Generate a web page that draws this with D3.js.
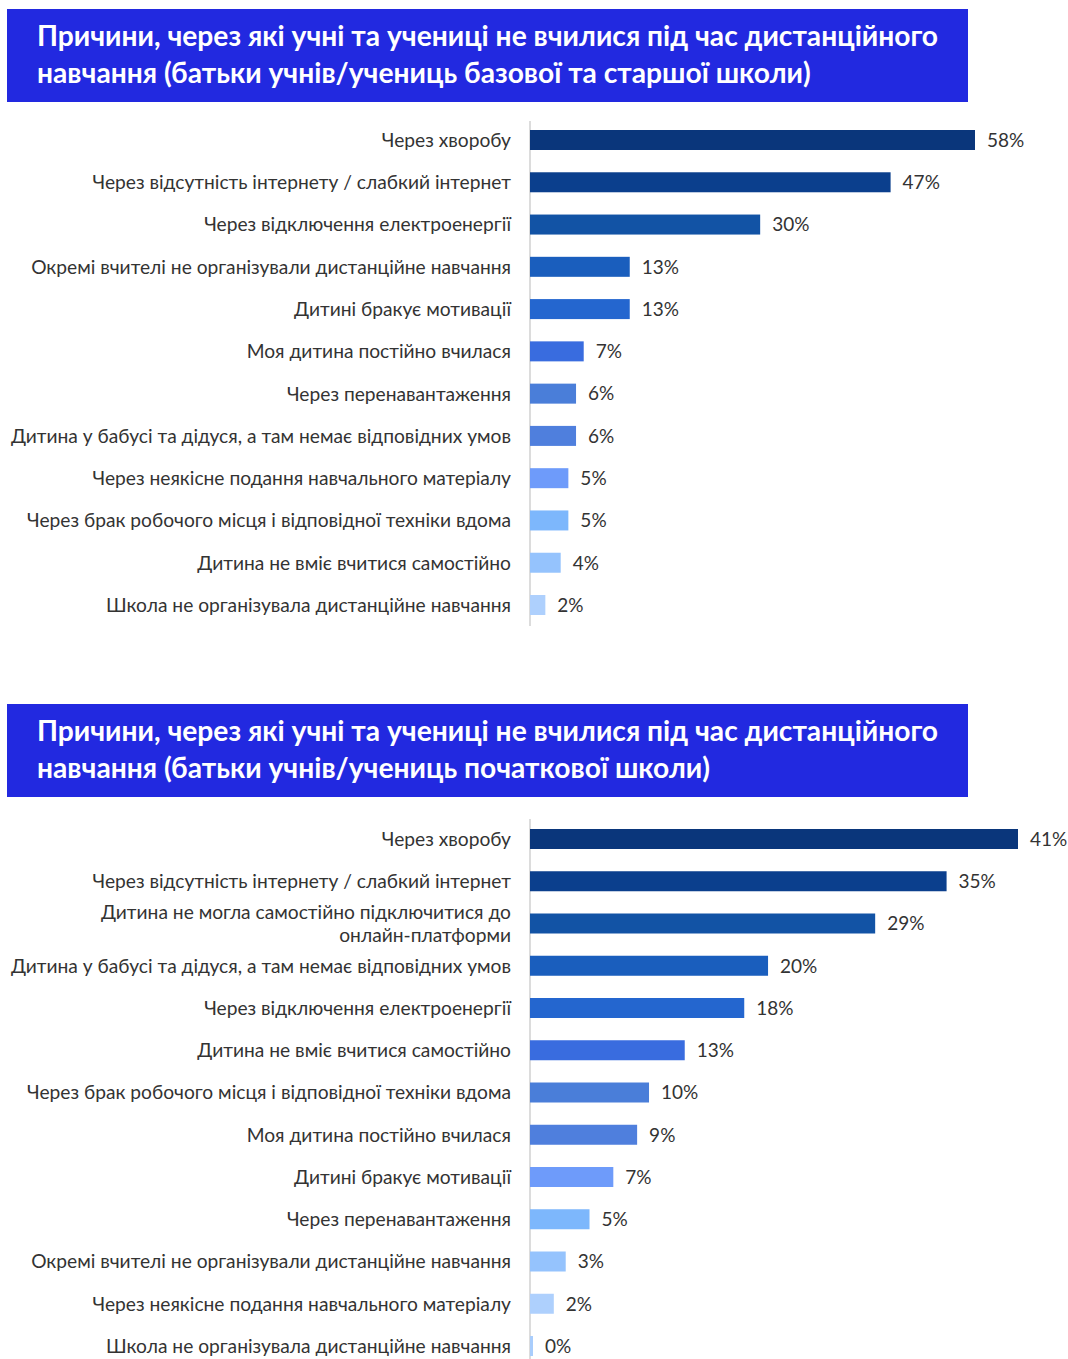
<!DOCTYPE html>
<html>
<head>
<meta charset="utf-8">
<script src="https://cdn.jsdelivr.net/npm/d3@7"></script>
<style>
  body { margin: 0; background: #fff; }
  svg { display: block; }
</style>
</head>
<body>
<svg id="chart" width="1068" height="1359"></svg>
<script>
// panel 1: parents of basic and senior school pupils
const title1 = ["Причини, через які учні та учениці не вчилися під час дистанційного",
  "навчання (батьки учнів/учениць базової та старшої школи)"]
const cats1 = [
  "Через хворобу",
  "Через відсутність інтернету / слабкий інтернет",
  "Через відключення електроенергії",
  "Окремі вчителі не організували дистанційне навчання",
  "Дитині бракує мотивації",
  "Моя дитина постійно вчилася",
  "Через перенавантаження",
  "Дитина у бабусі та дідуся, а там немає відповідних умов",
  "Через неякісне подання навчального матеріалу",
  "Через брак робочого місця і відповідної техніки вдома",
  "Дитина не вміє вчитися самостійно",
  "Школа не організувала дистанційне навчання"
]
const vals1 = [58, 47, 30, 13, 13, 7, 6, 6, 5, 5, 4, 2]

// panel 2: parents of primary school pupils
const title2 = ["Причини, через які учні та учениці не вчилися під час дистанційного",
  "навчання (батьки учнів/учениць початкової школи)"]
const cats2 = [
  "Через хворобу",
  "Через відсутність інтернету / слабкий інтернет",
  "Дитина не могла самостійно підключитися до\nонлайн-платформи",
  "Дитина у бабусі та дідуся, а там немає відповідних умов",
  "Через відключення електроенергії",
  "Дитина не вміє вчитися самостійно",
  "Через брак робочого місця і відповідної техніки вдома",
  "Моя дитина постійно вчилася",
  "Дитині бракує мотивації",
  "Через перенавантаження",
  "Окремі вчителі не організували дистанційне навчання",
  "Через неякісне подання навчального матеріалу",
  "Школа не організувала дистанційне навчання"
]
const vals2 = [41, 35, 29, 20, 18, 13, 10, 9, 7, 5, 3, 2, 0]

const palette = ['#0a367b', '#0b3f8d', '#1253a5', '#1a5ebd', '#2466cf', '#396cdf',
  '#4a7ed9', '#4f7fdd', '#6e9bfa', '#7db7fc', '#95c3fd', '#aed0fd', '#a9cdfc']

const svg = d3.select('#chart')
const font = 'Lato, "Noto Sans", sans-serif'

function titleBox(lines, top) {
  const g = svg.append('g')
  g.append('rect')
    .attr('x', 7)
    .attr('y', top)
    .attr('width', 961)
    .attr('height', 93)
    .attr('fill', '#2229e0')
  g.selectAll('text')
    .data(lines)
    .enter()
    .append('text')
    .attr('x', 37)
    .attr('y', (d, i) => top + 37 + i * 37)
    .attr('fill', '#fff')
    .attr('font-family', font)
    .attr('font-weight', 700)
    .attr('font-size', '28.2px')
    .text(d => d)
}

function barPanel(cats, vals, yTop, yBottom, axisTop, axisBottom, xMax, xRight) {
  const x = d3.scaleLinear()
    .domain([0, xMax])
    .range([530, xRight])

  const y = d3.scalePoint()
    .domain(d3.range(cats.length))
    .range([yTop, yBottom])

  const g = svg.append('g')

  g.append('line')
    .attr('x1', 530).attr('x2', 530)
    .attr('y1', axisTop).attr('y2', axisBottom)
    .attr('stroke', '#d0d0d0')
    .attr('stroke-width', 1.5)

  g.selectAll('rect.bar')
    .data(vals)
    .enter()
    .append('rect')
    .attr('class', 'bar')
    .attr('x', x(0))
    .attr('y', (d, i) => y(i) - 10)
    .attr('height', 20)
    .attr('width', d => Math.max(x(d) - x(0), 3))
    .attr('fill', (d, i) => palette[i])

  g.selectAll('text.val')
    .data(vals)
    .enter()
    .append('text')
    .attr('class', 'val')
    .attr('x', d => Math.max(x(d), x(0) + 3) + 12)
    .attr('y', (d, i) => y(i))
    .attr('dy', '0.36em')
    .attr('fill', '#333')
    .attr('font-family', font)
    .attr('font-size', '19px')
    .text(d => d + '%')

  const labels = g.selectAll('text.cat')
    .data(cats)
    .enter()
    .append('text')
    .attr('class', 'cat')
    .attr('x', 511)
    .attr('y', (d, i) => y(i))
    .attr('text-anchor', 'end')
    .attr('fill', '#333')
    .attr('font-family', font)
    .attr('font-size', '19.2px')

  labels.each(function(d) {
    const parts = d.split('\n')
    const t = d3.select(this)
    parts.forEach((p, k) => {
      t.append('tspan')
        .attr('x', 511)
        .attr('dy', k == 0 ? (0.36 - (parts.length - 1) * 0.6) + 'em' : '1.2em')
        .text(p)
    })
  })
}

titleBox(title1, 9)
barPanel(cats1, vals1, 140, 605, 121, 626, 58, 975)

titleBox(title2, 704)
barPanel(cats2, vals2, 839, 1346, 819, 1359, 41, 1018)
</script>
</body>
</html>
